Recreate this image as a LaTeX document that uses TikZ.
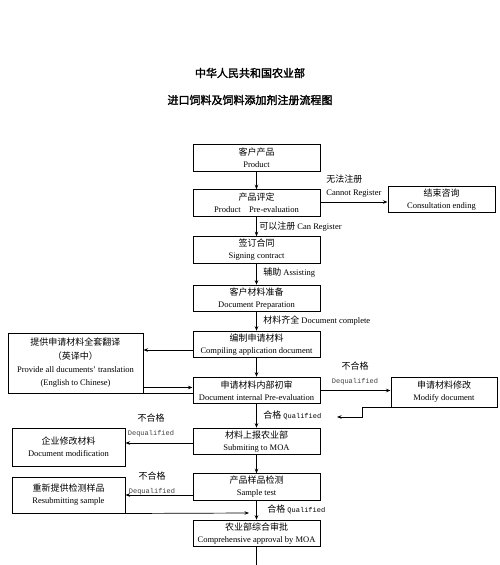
\documentclass[tikz,border=0pt]{standalone}
\usepackage{fontspec}
\setmainfont{Liberation Serif}
\setmonofont{Liberation Mono}
\newfontfamily\cjk[AutoFakeBold=2]{Noto Sans CJK SC}
\usepackage{xcolor}
\usepackage{tikz}
\usetikzlibrary{positioning,arrows.meta}

\newcommand{\zh}[1]{{\cjk\fontsize{9}{12}\selectfont #1}}

\tikzset{
    box/.style={draw, line width=1pt, minimum width=127pt, minimum height=26.5pt,
        inner sep=0pt, align=center, font=\fontsize{8.5}{12}\selectfont},
    lbl/.style={inner sep=0pt, anchor=west, font=\fontsize{8.5}{13}\selectfont},
    dq/.style={inner sep=0pt, align=center, font=\fontsize{8}{14}\selectfont},
}

\begin{document}
\begin{tikzpicture}[x=1pt, y=-1pt, node distance=46pt, >={Stealth[length=4.5pt, width=3.5pt]}, line width=0.7pt]
        \useasboundingbox (0,0) rectangle (500,565);

        \node (t1) at (250,73) {\cjk\fontsize{11}{13}\selectfont\bfseries 中华人民共和国农业部};
        \node (t2) at (250,100) {\cjk\fontsize{11}{13}\selectfont\bfseries 进口饲料及饲料添加剂注册流程图};

        \node[box] (b1) at (256.5,158) {\zh{客户产品}\\Product};
        \node[box] (b2) [below of=b1, node distance=45pt] {\zh{产品评定}\\Product\quad Pre-evaluation};
        \node[box] (b3) [below of=b2, node distance=47pt] {\zh{签订合同}\\Signing contract};
        \node[box] (b4) [below of=b3, node distance=48.5pt] {\zh{客户材料准备}\\Document Preparation};
        \node[box] (b5) [below of=b4] {\zh{编制申请材料}\\Compiling application document};
        \node[box] (b6) [below of=b5] {\zh{申请材料内部初审}\\Document internal Pre-evaluation};
        \node[box] (b7) [below of=b6, node distance=51pt] {\zh{材料上报农业部}\\Submiting to MOA};
        \node[box] (b8) [below of=b7, node distance=45.5pt] {\zh{产品样品检测}\\Sample test};
        \node[box] (b9) [below of=b8, node distance=46.5pt] {\zh{农业部综合审批}\\Comprehensive approval by MOA};
        \coordinate (next) at (256.5,575);

        \node[box, minimum width=107pt] (end) [right of=b2, node distance=185pt, yshift=3.5pt] {\zh{结束咨询}\\Consultation ending};
        \node[box, minimum width=106pt, minimum height=30pt] (mod) [right of=b6, node distance=187.5pt, yshift=-1.5pt] {\zh{申请材料修改}\\Modify document};
        \node[box, minimum width=135pt, minimum height=60pt, font=\fontsize{8.5}{13.3}\selectfont] (trans) [left of=b5, node distance=181pt, yshift=-18.5pt]
            {\zh{提供申请材料全套翻译}\\\zh{（英译中）}\\Provide all ducuments’ translation\\(English to Chinese)};
        \node[box, minimum width=113pt, minimum height=38pt] (docmod) [left of=b7, node distance=188pt, yshift=-5.5pt] {\zh{企业修改材料}\\Document modification};
        \node[box, minimum width=113pt, minimum height=36pt] (resub) [left of=b8, node distance=188pt, yshift=-8pt] {\zh{重新提供检测样品}\\Resubmitting sample};
        \coordinate (q1) at (337,417);
        \coordinate (q2) at (249,513);

        \node[lbl] (l1) at (259,227) {\zh{可以注册} Can Register};
        \node[lbl] (l2) at (263,273) {\zh{辅助} Assisting};
        \node[lbl] (l3) at (263,321) {\zh{材料齐全} Document complete};
        \node[lbl, align=left] (l4) at (326,186.5) {\zh{无法注册}\\Cannot Register};
        \node[lbl] (l5) at (263,415) {\zh{合格} \texttt{\fontsize{7}{9}\selectfont Qualified}};
        \node[lbl] (l6) at (267,509) {\zh{合格} \texttt{\fontsize{7}{9}\selectfont Qualified}};
        \node[dq] (d1) at (355,373) {\zh{不合格}\\\texttt{\fontsize{7}{9}\selectfont\color{black!75} Dequalified}};
        \node[dq] (d2) at (151,425.5) {\zh{不合格}\\\texttt{\fontsize{7}{9}\selectfont\color{black!75} Dequalified}};
        \node[dq] (d3) at (152,483.5) {\zh{不合格}\\\texttt{\fontsize{7}{9}\selectfont\color{black!75} Dequalified}};

        \draw[->] (b1) -- (b2);
        \draw[->] (b2) -- (b3);
        \draw[->] (b3) -- (b4);
        \draw[->] (b4) -- (b5);
        \draw[->] (b5) -- (b6);
        \draw[->] (b6) -- (b7);
        \draw[->] (b7) -- (b8);
        \draw[->] (b8) -- (b9);
        \draw[->] (b9) -- (next);

        \draw[->] ([yshift=1pt]b2.east) -- ([yshift=1pt]b2.east -| end.west);
        \draw[->] ([yshift=-5.5pt]b5.west) -- ([yshift=-5.5pt]b5.west -| trans.east);
        \draw[->] ([yshift=3pt]b6.west -| trans.east) -- ([yshift=3pt]b6.west);
        \draw (trans.south east) -- (trans.south east -| b6.west);
        \draw[->] (b6.east) -- (b6.east -| mod.west);
        \draw[->] (mod.south west) -- ++(-28,0) |- (q1);
        \draw[->] ([yshift=-1.5pt]b7.west) -- ([yshift=-1.5pt]b7.west -| docmod.east);
        \draw[->] ([yshift=-8pt]b8.west) -- ([yshift=-8pt]b8.west -| resub.east);
        \draw[->] (resub.south east) -- (q2);
    \end{tikzpicture}
\end{document}
